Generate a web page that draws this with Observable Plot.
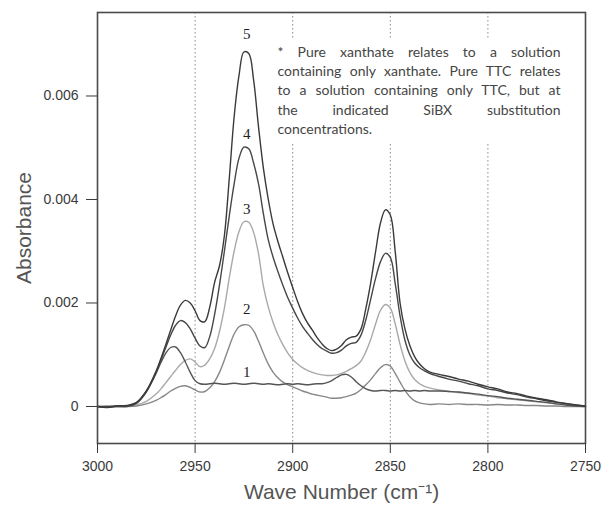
<!DOCTYPE html>
<html><head><meta charset="utf-8">
<script src="https://cdn.jsdelivr.net/npm/d3@7"></script>
<script src="https://cdn.jsdelivr.net/npm/@observablehq/plot@0.6"></script>
<style>body{margin:0;background:#fff;}</style>
</head><body><div id="chart"></div>
<script>
// Wave numbers (cm-1), shared by all five spectra
const waveNumbers = [3000, 2995, 2990, 2985, 2980, 2975,
  2970, 2967.5, 2965, 2962.5, 2960, 2957.5, 2955, 2952.5, 2950, 2947.5,
  2945, 2942.5, 2940, 2937.5, 2935, 2932.5, 2930, 2927.5, 2925, 2922.5,
  2920, 2917.5, 2915, 2912.5, 2910, 2907.5, 2905, 2902.5, 2900, 2897.5,
  2895, 2892.5, 2890, 2887.5, 2885, 2882.5, 2880, 2877.5, 2875, 2872.5,
  2870, 2867.5, 2865, 2862.5, 2860, 2857.5, 2855, 2852.5, 2850, 2847.5,
  2845, 2842.5, 2840, 2837.5, 2835, 2832.5, 2830,
  2825, 2820, 2815, 2810, 2805, 2800, 2795, 2790, 2785, 2780, 2775, 2770, 2765, 2760, 2755, 2750];

const curve1 = [0.00000, -0.00001, 0.00001, 0.00000, 0.00006, 0.00028,
  0.00064, 0.00085, 0.00103, 0.00114, 0.00115, 0.00104, 0.00086, 0.00066, 0.00050, 0.00044,
  0.00043, 0.00044, 0.00045, 0.00044, 0.00043, 0.00044, 0.00045, 0.00044, 0.00043, 0.00044,
  0.00045, 0.00044, 0.00043, 0.00044, 0.00043, 0.00042, 0.00043, 0.00044, 0.00043, 0.00044,
  0.00043, 0.00042, 0.00043, 0.00044, 0.00044, 0.00046, 0.00050, 0.00056, 0.00061, 0.00062,
  0.00057, 0.00048, 0.00040, 0.00034, 0.00031, 0.00030, 0.00031, 0.00031, 0.00030, 0.00031,
  0.00030, 0.00031, 0.00030, 0.00031, 0.00030, 0.00031, 0.00030,
  0.00030, 0.00029, 0.00028, 0.00026, 0.00024, 0.00021, 0.00019, 0.00016, 0.00014, 0.00012, 0.00010, 0.00008, 0.00005, 0.00003, 0.00001, 0.00000];

const curve2 = [0.00000, 0.00001, 0.00000, 0.00000, 0.00001, 0.00005,
  0.00012, 0.00017, 0.00023, 0.00030, 0.00035, 0.00039, 0.00040, 0.00037, 0.00032, 0.00028,
  0.00029, 0.00036, 0.00048, 0.00066, 0.00090, 0.00116, 0.00140, 0.00154, 0.00158, 0.00157,
  0.00146, 0.00126, 0.00103, 0.00082, 0.00066, 0.00055, 0.00047, 0.00042, 0.00038, 0.00034,
  0.00030, 0.00027, 0.00024, 0.00022, 0.00020, 0.00018, 0.00016, 0.00016, 0.00017, 0.00019,
  0.00022, 0.00026, 0.00033, 0.00042, 0.00052, 0.00064, 0.00075, 0.00081, 0.00078, 0.00064,
  0.00047, 0.00031, 0.00019, 0.00011, 0.00007, 0.00005, 0.00004,
  0.00005, 0.00004, 0.00005, 0.00004, 0.00004, 0.00003, 0.00004, 0.00003, 0.00003, 0.00002, 0.00002, 0.00001, 0.00001, 0.00000, 0.00000, 0.00000];

const curve3 = [0.00000, 0.00000, -0.00001, 0.00000, 0.00003, 0.00010,
  0.00024, 0.00034, 0.00046, 0.00058, 0.00070, 0.00081, 0.00089, 0.00092, 0.00086, 0.00077,
  0.00080, 0.00092, 0.00112, 0.00145, 0.00190, 0.00248, 0.00300, 0.00338, 0.00357, 0.00356,
  0.00336, 0.00295, 0.00232, 0.00192, 0.00162, 0.00138, 0.00119, 0.00103, 0.00091, 0.00082,
  0.00075, 0.00070, 0.00066, 0.00063, 0.00061, 0.00060, 0.00060, 0.00061, 0.00064, 0.00068,
  0.00073, 0.00079, 0.00088, 0.00106, 0.00130, 0.00160, 0.00186, 0.00197, 0.00190, 0.00160,
  0.00120, 0.00088, 0.00066, 0.00052, 0.00044, 0.00039, 0.00036,
  0.00032, 0.00029, 0.00027, 0.00025, 0.00022, 0.00020, 0.00017, 0.00015, 0.00013, 0.00011, 0.00009, 0.00007, 0.00005, 0.00003, 0.00001, 0.00000];

const curve4 = [0.00000, -0.00001, 0.00001, 0.00001, 0.00007, 0.00029,
  0.00066, 0.00090, 0.00114, 0.00138, 0.00157, 0.00166, 0.00162, 0.00150, 0.00132, 0.00117,
  0.00114, 0.00135, 0.00178, 0.00235, 0.00300, 0.00368, 0.00430, 0.00480, 0.00501, 0.00498,
  0.00470, 0.00430, 0.00372, 0.00322, 0.00288, 0.00260, 0.00234, 0.00210, 0.00190, 0.00171,
  0.00155, 0.00142, 0.00130, 0.00120, 0.00112, 0.00107, 0.00103, 0.00104, 0.00109, 0.00117,
  0.00122, 0.00124, 0.00138, 0.00168, 0.00208, 0.00248, 0.00280, 0.00296, 0.00288, 0.00238,
  0.00175, 0.00128, 0.00100, 0.00084, 0.00075, 0.00069, 0.00064,
  0.00058, 0.00053, 0.00049, 0.00044, 0.00040, 0.00034, 0.00031, 0.00026, 0.00023, 0.00018, 0.00015, 0.00011, 0.00008, 0.00005, 0.00003, 0.00001];

const curve5 = [0.00000, -0.00002, 0.00001, 0.00002, 0.00008, 0.00030,
  0.00068, 0.00093, 0.00120, 0.00148, 0.00175, 0.00196, 0.00205, 0.00200, 0.00185, 0.00166,
  0.00164, 0.00192, 0.00240, 0.00272, 0.00330, 0.00440, 0.00560, 0.00640, 0.00685, 0.00682,
  0.00630, 0.00540, 0.00460, 0.00400, 0.00352, 0.00318, 0.00288, 0.00258, 0.00230, 0.00203,
  0.00180, 0.00162, 0.00148, 0.00133, 0.00121, 0.00112, 0.00108, 0.00111, 0.00118, 0.00129,
  0.00134, 0.00136, 0.00150, 0.00190, 0.00240, 0.00300, 0.00355, 0.00380, 0.00370, 0.00300,
  0.00200, 0.00150, 0.00118, 0.00096, 0.00082, 0.00073, 0.00067,
  0.00062, 0.00058, 0.00053, 0.00049, 0.00043, 0.00038, 0.00034, 0.00028, 0.00025, 0.00020, 0.00016, 0.00013, 0.00009, 0.00006, 0.00003, 0.00001];

const xTicks = [3000, 2950, 2900, 2850, 2800, 2750];
const yTicks = [0, 0.002, 0.004, 0.006];
const gridWaves = [2950, 2900, 2850, 2800];

const peakLabels = ["1", "2", "3", "4", "5"];
const peakLabelWave = [2923.5, 2923.5, 2923.5, 2923.5, 2923.5];
const peakLabelValue = [0.00066, 0.00189, 0.00381, 0.00526, 0.00719];

const noteLines = [
  "* Pure xanthate relates to a solution",
  "containing only xanthate. Pure TTC relates",
  "to a solution containing only TTC, but at",
  "the indicated SiBX substitution",
  "concentrations."
];

// styling
const sans = "Liberation Sans, Arial, sans-serif";
const series = [
  {values: curve3, color: "#a9a9a9"},
  {values: curve2, color: "#878787"},
  {values: curve1, color: "#555555"},
  {values: curve4, color: "#474747"},
  {values: curve5, color: "#3a3a3a"}
];

const lineMarks = series.map(s => Plot.line(
  waveNumbers.map((w, i) => ({wave: w, abs: s.values[i]})),
  {x: "wave", y: "abs", stroke: s.color, strokeWidth: 1.4, curve: "catmull-rom"}
));

const labels = peakLabels.map((t, i) => ({t, x: peakLabelWave[i], y: peakLabelValue[i]}));

const noteMarks = noteLines.map((line, i) => Plot.text([line], {
  frameAnchor: "top-left", dx: 180, dy: 40 + i * 19.2,
  text: d => d, textAnchor: "start", lineAnchor: "middle",
  fontFamily: "Lato", fontSize: 14, fill: "#454545"
}));

const svg = Plot.plot({
  width: 602, height: 506,
  marginLeft: 97, marginRight: 17, marginTop: 12, marginBottom: 63,
  style: {fontFamily: sans, fontSize: "14px", color: "#3a3a3a", background: "#fff"},
  x: {domain: [3000, 2750]},
  y: {domain: [-0.000715, 0.0076135]},
  marks: [
    Plot.ruleX(gridWaves, {stroke: "#8a8a8a", strokeDasharray: "1.5,2.5", strokeWidth: 1}),
    Plot.rect([0], {x1: 2910.2, x2: 2759.2, y1: 0.00508, y2: 0.00711, fill: "white"}),
    ...noteMarks,
    ...lineMarks,
    Plot.text(labels, {x: "x", y: "y", text: "t", fontFamily: "Liberation Serif, serif", fontSize: 15, fill: "#222"}),
    Plot.frame({stroke: "#4a4a4a", strokeWidth: 1.6}),
    Plot.axisX({ticks: xTicks, tickSize: 10, tickPadding: 8, tickFormat: d3.format("d"), label: null, fontSize: 14, fontFamily: sans}),
    Plot.axisY({ticks: yTicks, tickSize: 11, tickPadding: 8, tickFormat: d => d === 0 ? "0" : d3.format(".3f")(d), label: null, fontSize: 14, fontFamily: sans}),
    Plot.text(["Absorbance"], {frameAnchor: "left", dx: -73, rotate: -90, text: d => d, fontFamily: sans, fontSize: 21, fill: "#555", textAnchor: "middle", lineAnchor: "middle"}),
    Plot.text(["Wave Number (cm\u207B\u00B9)"], {frameAnchor: "bottom", dy: 49, text: d => d, fontFamily: sans, fontSize: 21, fill: "#555", lineAnchor: "middle"})
  ]
});
document.getElementById("chart").append(svg);

// justify the note lines (all but the last)
const noteWidth = 283;
svg.querySelectorAll("text").forEach(t => {
  const idx = noteLines.indexOf(t.textContent);
  if (idx >= 0 && idx < noteLines.length - 1) {
    const len = t.getComputedTextLength();
    const n = t.textContent.trim().split(/\s+/).length - 1;
    if (n > 0) t.style.wordSpacing = ((noteWidth - len) / n) + "px";
  }
});
</script>
</body></html>
